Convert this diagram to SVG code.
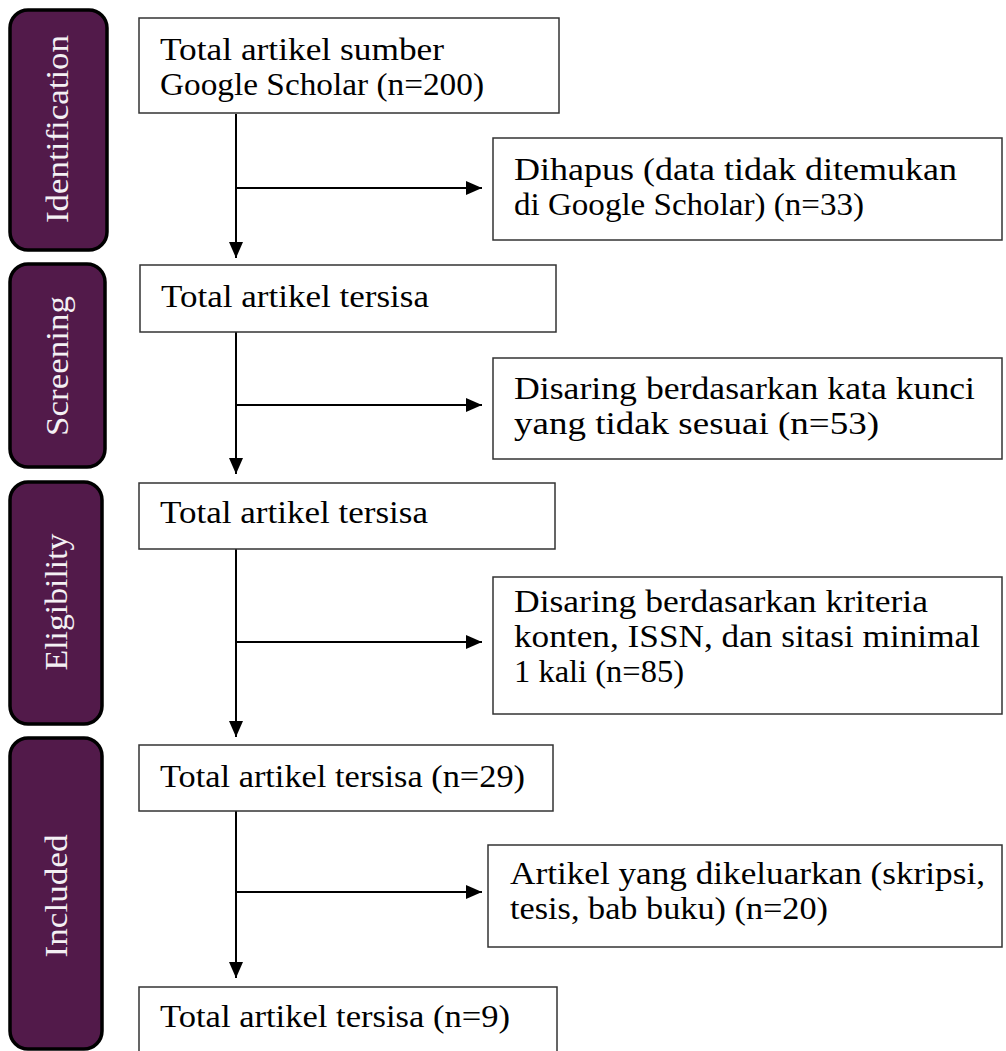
<svg xmlns="http://www.w3.org/2000/svg" width="1006" height="1051" viewBox="0 0 1006 1051">
<style>
  .stage { fill: #521a4a; stroke: #000; stroke-width: 3.5; }
  .stage-label { font-family: "Liberation Serif", "Times New Roman", serif; font-size: 31px; fill: #f4f0f4; text-anchor: middle; }
  .box { fill: #fff; stroke: #333; stroke-width: 1.5; }
  .txt { font-family: "Liberation Serif", "Times New Roman", serif; font-size: 31px; fill: #000; }
  .conn { stroke: #000; stroke-width: 2; fill: none; marker-end: url(#arrow); }
</style>
<defs>
  <marker id="arrow" markerUnits="userSpaceOnUse" markerWidth="16" markerHeight="14" refX="16" refY="7" orient="auto">
    <path d="M0,0 L16,7 L0,14 z" fill="#000"/>
  </marker>
</defs>
<rect width="1006" height="1051" fill="#fff"/>

<g id="stage-identification">
  <rect class="stage" x="10" y="10" width="97" height="240" rx="18"/>
  <text class="stage-label" transform="translate(68,129) rotate(-90)" textLength="188" lengthAdjust="spacingAndGlyphs">Identification</text>
</g>
<g id="stage-screening">
  <rect class="stage" x="10" y="264" width="95" height="203" rx="18"/>
  <text class="stage-label" transform="translate(68,366) rotate(-90)" textLength="140" lengthAdjust="spacingAndGlyphs">Screening</text>
</g>
<g id="stage-eligibility">
  <rect class="stage" x="10" y="482" width="92" height="242" rx="18"/>
  <text class="stage-label" transform="translate(67,602) rotate(-90)" textLength="137" lengthAdjust="spacingAndGlyphs">Eligibility</text>
</g>
<g id="stage-included">
  <rect class="stage" x="10" y="738" width="92" height="311" rx="18"/>
  <text class="stage-label" transform="translate(67,896) rotate(-90)" textLength="123" lengthAdjust="spacingAndGlyphs">Included</text>
</g>

<g id="connectors">
  <line class="conn" x1="236" y1="114" x2="236" y2="258"/>
  <line class="conn" x1="237" y1="188" x2="482" y2="188"/>
  <line class="conn" x1="236" y1="332" x2="236" y2="474"/>
  <line class="conn" x1="237" y1="405" x2="482" y2="405"/>
  <line class="conn" x1="236" y1="549" x2="236" y2="737"/>
  <line class="conn" x1="237" y1="642" x2="482" y2="642"/>
  <line class="conn" x1="236" y1="811" x2="236" y2="978"/>
  <line class="conn" x1="237" y1="892" x2="482" y2="892"/>
</g>

<g id="n-total-200">
  <rect class="box" x="139" y="18" width="420" height="95"/>
  <text class="txt" x="160" y="60" textLength="284" lengthAdjust="spacingAndGlyphs">Total artikel sumber</text>
  <text class="txt" x="160" y="95" textLength="324" lengthAdjust="spacingAndGlyphs">Google Scholar (n=200)</text>
</g>
<g id="n-removed-33">
  <rect class="box" x="493" y="138" width="509" height="102"/>
  <text class="txt" x="514" y="180" textLength="443" lengthAdjust="spacingAndGlyphs">Dihapus (data tidak ditemukan</text>
  <text class="txt" x="514" y="215" textLength="350" lengthAdjust="spacingAndGlyphs">di Google Scholar) (n=33)</text>
</g>
<g id="n-remaining-1">
  <rect class="box" x="140" y="265" width="416" height="67"/>
  <text class="txt" x="161" y="307" textLength="268" lengthAdjust="spacingAndGlyphs">Total artikel tersisa</text>
</g>
<g id="n-screened-53">
  <rect class="box" x="493" y="358" width="509" height="101"/>
  <text class="txt" x="514" y="399" textLength="461" lengthAdjust="spacingAndGlyphs">Disaring berdasarkan kata kunci</text>
  <text class="txt" x="514" y="434" textLength="365" lengthAdjust="spacingAndGlyphs">yang tidak sesuai (n=53)</text>
</g>
<g id="n-remaining-2">
  <rect class="box" x="139" y="483" width="416" height="66"/>
  <text class="txt" x="160" y="523" textLength="268" lengthAdjust="spacingAndGlyphs">Total artikel tersisa</text>
</g>
<g id="n-filtered-85">
  <rect class="box" x="493" y="577" width="509" height="137"/>
  <text class="txt" x="514" y="612" textLength="414" lengthAdjust="spacingAndGlyphs">Disaring berdasarkan kriteria</text>
  <text class="txt" x="514" y="647" textLength="466" lengthAdjust="spacingAndGlyphs">konten, ISSN, dan sitasi minimal</text>
  <text class="txt" x="514" y="682" textLength="170" lengthAdjust="spacingAndGlyphs">1 kali (n=85)</text>
</g>
<g id="n-remaining-29">
  <rect class="box" x="139" y="745" width="414" height="66"/>
  <text class="txt" x="160" y="787" textLength="365" lengthAdjust="spacingAndGlyphs">Total artikel tersisa (n=29)</text>
</g>
<g id="n-excluded-20">
  <rect class="box" x="488" y="845" width="514" height="102"/>
  <text class="txt" x="510" y="884" textLength="475" lengthAdjust="spacingAndGlyphs">Artikel yang dikeluarkan (skripsi,</text>
  <text class="txt" x="510" y="919" textLength="318" lengthAdjust="spacingAndGlyphs">tesis, bab buku) (n=20)</text>
</g>
<g id="n-final-9">
  <rect class="box" x="139" y="987" width="418" height="80"/>
  <text class="txt" x="160" y="1027" textLength="350" lengthAdjust="spacingAndGlyphs">Total artikel tersisa (n=9)</text>
</g>
</svg>
